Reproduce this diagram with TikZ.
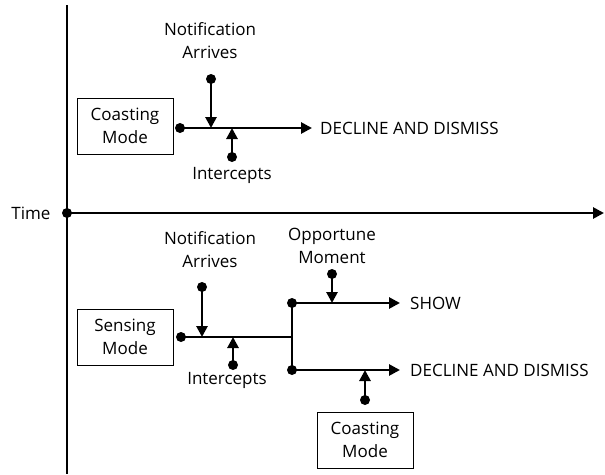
\documentclass[tikz,border=0pt]{standalone}
\usepackage{fontspec}
\setmainfont{Open Sans}
\usetikzlibrary{arrows.meta}
\begin{document}
\begin{tikzpicture}[x=1pt,y=-1pt,
  every node/.style={font=\fontsize{17}{23}\selectfont},
  dot/.style={circle,fill=black,inner sep=0pt,minimum size=10pt},
  flow/.style={line width=2.7pt},
  flowarrow/.style={flow,-{Triangle[length=11pt,width=11pt]}},
  modebox/.style={draw,line width=1pt,minimum width=96pt,minimum height=56pt,align=center,inner sep=2pt},
  lbl/.style={align=center,inner sep=0pt},
  outcome/.style={anchor=west,inner sep=0pt}]
\useasboundingbox (0,0) rectangle (605,474);

% time axes
\coordinate (axtop) at (67,5);
\coordinate (axbot) at (67,474);
\draw[line width=1.7pt] (axtop) -- (axbot);
\node[dot] (t0) at (67,213) {};
\coordinate (tend) at (604,213);
\draw[flowarrow] (t0.center) -- (tend);
\node (time) at (31,213) {Time};

% upper scenario: coasting mode
\node[modebox] (coastA) at (125,126) {Coasting\\Mode};
\node[dot] (sA) at (180,128) {};
\coordinate (eA) at (312,128);
\draw[flowarrow] (sA.center) -- (eA);
\node[outcome] (decA) at (320,128) {DECLINE AND DISMISS};
\node[dot] (nA) at (211,79) {};
\coordinate (nAt) at (211,128);
\draw[flowarrow] (nA.center) -- (nAt);
\node[lbl] (nAl) at (210,41) {Notification\\Arrives};
\node[dot] (iA) at (232,157) {};
\coordinate (iAt) at (232,128);
\draw[flowarrow] (iA.center) -- (iAt);
\node[lbl] (iAl) at (232,175) {Intercepts};

% lower scenario: sensing mode
\node[modebox] (sense) at (125,337) {Sensing\\Mode};
\node[dot] (sB) at (181,337) {};
\coordinate (fork) at (292,337);
\draw[flow] (sB.center) -- (fork);
\node[dot] (up) at (292,303) {};
\node[dot] (dn) at (292,370) {};
\draw[flow] (up.center) -- (dn.center);
\coordinate (upE) at (400,303);
\coordinate (dnE) at (400,370);
\draw[flowarrow] (up.center) -- (upE);
\draw[flowarrow] (dn.center) -- (dnE);
\node[outcome] (show) at (410,303) {SHOW};
\node[outcome] (decB) at (410,370) {DECLINE AND DISMISS};

\node[dot] (nB) at (202,287) {};
\coordinate (nBt) at (202,337);
\draw[flowarrow] (nB.center) -- (nBt);
\node[lbl] (nBl) at (210,250) {Notification\\Arrives};
\node[dot] (iB) at (233,365) {};
\coordinate (iBt) at (233,337);
\draw[flowarrow] (iB.center) -- (iBt);
\node[lbl] (iBl) at (227,380) {Intercepts};

\node[dot] (oB) at (332,274) {};
\coordinate (oBt) at (332,303);
\draw[flowarrow] (oB.center) -- (oBt);
\node[lbl] (oBl) at (332,246) {Opportune\\Moment};

\node[dot] (cB) at (365,400) {};
\coordinate (cBt) at (365,370);
\draw[flowarrow] (cB.center) -- (cBt);
\node[modebox] (coastB) at (365,440) {Coasting\\Mode};
\end{tikzpicture}
\end{document}
